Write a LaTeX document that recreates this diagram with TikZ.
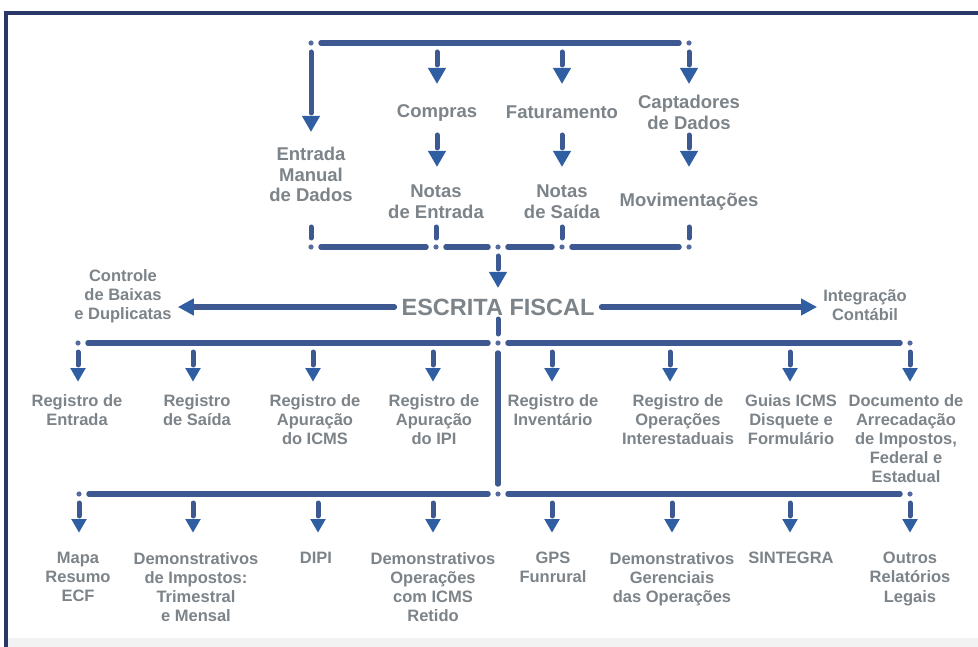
\documentclass[tikz,border=0pt]{standalone}
\usepackage{fontspec}
\setmainfont{Liberation Sans}
\usetikzlibrary{calc,shapes.geometric,arrows.meta}

\definecolor{framec}{RGB}{42,56,104}
\definecolor{barc}{RGB}{62,88,146}
\definecolor{dotc}{RGB}{86,108,160}
\definecolor{tipc}{RGB}{48,94,162}
\definecolor{txtc}{RGB}{124,131,137}

\tikzset{
  bar/.style = {draw = barc, line width = 5.5pt, line cap = round, shorten < = 7.4pt, shorten > = 7.4pt},
  dot/.style = {circle, fill = dotc, inner sep = 0pt, outer sep = 0pt, minimum size = 5.2pt},
  tri/.style = {regular polygon, regular polygon sides = 3, shape border rotate = 180, fill = tipc, minimum size = 18pt, inner sep = 0pt, outer sep = 0pt},
  drop/.style = {draw = barc, line width = 5pt, line cap = round,
    to path = {($(\tikztostart)+(0,9)$) -- ($(\tikztostart)+(0,#1)$) node[tri, anchor = side 2] at ($(\tikztostart)+(0,#1+3)$) {}}},
  drop/.default = 22,
  feed/.style = {draw = barc, line width = 5pt, line cap = round,
    to path = {($(\tikztotarget)+(0,-9)$) -- ($(\tikztotarget)+(0,-#1)$)}},
  feed/.default = 20,
  toplbl/.style = {font = \fontsize{18.5}{20.5}\selectfont\bfseries, text = txtc, align = center, anchor = north, inner sep = 0pt},
  lbl/.style = {font = \fontsize{16.5}{19.2}\selectfont\bfseries, text = txtc, align = center, anchor = north, inner sep = 0pt},
  side/.style = {bar, shorten < = 7pt, shorten > = 6pt, -{Triangle[length = 16pt, width = 16pt, color = tipc]}}
}

\begin{document}
\begin{tikzpicture}[x = 1pt, y = -1pt]
\useasboundingbox (0,0) rectangle (978,647);
\fill[white] (0,0) rectangle (978,647);
\fill[black!5] (8,638) rectangle (978,647);
\draw[framec, line width = 4pt] (6,647) -- (6,13) -- (978,13);

\node[dot] (t1) at (311,43) {};
\coordinate (t2) at (437,43);
\coordinate (t3) at (562,43);
\node[dot] (t4) at (689,43) {};
\coordinate (m2) at (437,126);
\coordinate (m3) at (562,126);
\coordinate (m4) at (689,126);
\node[dot] (b1) at (311,247) {};
\node[dot] (b2) at (436,247) {};
\node[dot] (b3) at (498,247) {};
\node[dot] (b4) at (562,247) {};
\node[dot] (b5) at (689,247) {};

\node[toplbl] (entrada) at (311,147) {Entrada\\Manual\\de Dados};
\node[toplbl] (compras) at (437,104) {Compras};
\node[toplbl] (faturamento) at (562,106) {Faturamento};
\node[toplbl] (captadores) at (689,95) {Captadores\\de Dados};
\node[toplbl] (notasent) at (436,185) {Notas\\de Entrada};
\node[toplbl] (notassai) at (562,185) {Notas\\de Saída};
\node[toplbl] (movim) at (689,193) {Movimentações};

\node[font = \fontsize{23.5}{26}\selectfont\bfseries, text = txtc, inner sep = 0pt] (escrita) at (498,307) {ESCRITA FISCAL};
\node[lbl] (controle) at (123,269) {Controle\\de Baixas\\e Duplicatas};
\node[lbl] (integracao) at (865,289) {Integração\\Contábil};

\begin{scope}[tri/.append style = {minimum size = 21pt}]
\draw[bar] (t1) -- (t4);
\draw[drop = 70] (t1) to (entrada);
\draw[drop] (t2) to (compras);
\draw[drop] (t3) to (faturamento);
\draw[drop] (t4) to (captadores);
\draw[drop] (m2) to (notasent);
\draw[drop] (m3) to (notassai);
\draw[drop] (m4) to (movim);
\draw[drop] (b3) to (escrita);
\end{scope}

\draw[feed] (entrada) to (b1);
\draw[feed] (notasent) to (b2);
\draw[feed] (notassai) to (b4);
\draw[feed] (movim) to (b5);
\draw[bar] (b1) -- (b2);
\draw[bar] (b2) -- (b3);
\draw[bar] (b3) -- (b4);
\draw[bar] (b4) -- (b5);

\draw[side] (escrita.west) -- (escrita.west -| controle.east);
\draw[side] (escrita.east) -- (escrita.east -| integracao.west);

\node[dot] (p1) at (78,343) {};
\coordinate (p2) at (193,343);
\coordinate (p3) at (313,343);
\coordinate (p4) at (433,343);
\node[dot] (pc) at (498,343) {};
\coordinate (p5) at (552,343);
\coordinate (p6) at (670,343);
\coordinate (p7) at (790,343);
\node[dot] (p8) at (910,343) {};

\node[lbl] (regent) at (77,394) {Registro de\\Entrada};
\node[lbl] (regsai) at (197,394) {Registro\\de Saída};
\node[lbl] (apuricms) at (315,394) {Registro de\\Apuração\\do ICMS};
\node[lbl] (apuripi) at (434,394) {Registro de\\Apuração\\do IPI};
\node[lbl] (invent) at (553,394) {Registro de\\Inventário};
\node[lbl] (interest) at (678,394) {Registro de\\Operações\\Interestaduais};
\node[lbl] (guias) at (791,394) {Guias ICMS\\Disquete e\\Formulário};
\node[lbl] (darf) at (906,394) {Documento de\\Arrecadação\\de Impostos,\\Federal e\\Estadual};

\draw[feed = 24] (escrita) to (pc);
\draw[bar] (p1) -- (pc);
\draw[bar] (pc) -- (p8);
\draw[drop] (p1) to (regent);
\draw[drop] (p2) to (regsai);
\draw[drop] (p3) to (apuricms);
\draw[drop] (p4) to (apuripi);
\draw[drop] (p5) to (invent);
\draw[drop] (p6) to (interest);
\draw[drop] (p7) to (guias);
\draw[drop] (p8) to (darf);

\node[dot] (q1) at (79,494) {};
\coordinate (q2) at (193,494);
\coordinate (q3) at (318,494);
\coordinate (q4) at (433,494);
\node[dot] (qc) at (498,494) {};
\coordinate (q5) at (552,494);
\coordinate (q6) at (672,494);
\coordinate (q7) at (790,494);
\node[dot] (q8) at (910,494) {};

\node[lbl] (mapa) at (78,552) {Mapa\\Resumo\\ECF};
\node[lbl] (demimp) at (196,552) {Demonstrativos\\de Impostos:\\Trimestral\\e Mensal};
\node[lbl] (dipi) at (316,552) {DIPI};
\node[lbl] (demret) at (433,552) {Demonstrativos\\Operações\\com ICMS\\Retido};
\node[lbl] (gps) at (553,552) {GPS\\Funrural};
\node[lbl] (demger) at (672,552) {Demonstrativos\\Gerenciais\\das Operações};
\node[lbl] (sintegra) at (791,552) {SINTEGRA};
\node[lbl] (outros) at (910,552) {Outros\\Relatórios\\Legais};

\draw[bar] (pc) -- (qc);
\draw[bar] (q1) -- (qc);
\draw[bar] (qc) -- (q8);
\draw[drop] (q1) to (mapa);
\draw[drop] (q2) to (demimp);
\draw[drop] (q3) to (dipi);
\draw[drop] (q4) to (demret);
\draw[drop] (q5) to (gps);
\draw[drop] (q6) to (demger);
\draw[drop] (q7) to (sintegra);
\draw[drop] (q8) to (outros);
\end{tikzpicture}
\end{document}
